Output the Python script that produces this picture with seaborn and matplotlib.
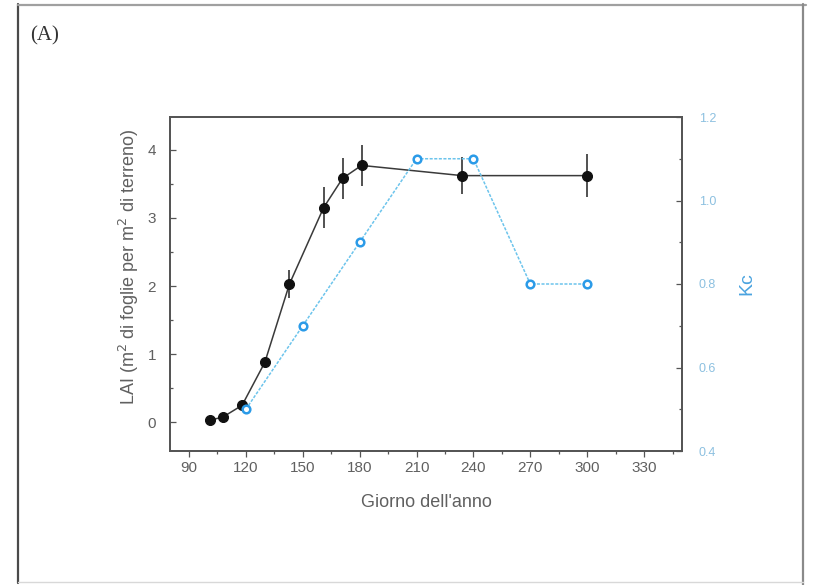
import matplotlib
matplotlib.use("Agg")
import matplotlib.pyplot as plt
from matplotlib.lines import Line2D
from matplotlib.ticker import MultipleLocator
import numpy as np
import pandas as pd
import seaborn as sns

# Leaf area index (LAI) measurements
lai_day = [101, 108, 118, 130, 143, 161, 171, 181, 234, 300]
lai_val = [0.03, 0.08, 0.25, 0.88, 2.03, 3.15, 3.58, 3.77, 3.62, 3.62]
lai_err = [0.0, 0.0, 0.05, 0.05, 0.2, 0.3, 0.3, 0.3, 0.27, 0.32]

# Crop coefficient (Kc)
kc_day = [120, 150, 180, 210, 240, 270, 300]
kc_val = [0.5, 0.7, 0.9, 1.1, 1.1, 0.8, 0.8]

x_ticks = [90, 120, 150, 180, 210, 240, 270, 300, 330]
lai_ticks = [0, 1, 2, 3, 4]
kc_ticks = [0.4, 0.6, 0.8, 1.0, 1.2]

sns.set_theme(style="white")
plt.rcParams["font.family"] = ["Liberation Sans", "DejaVu Sans"]

TXT = "#606060"
BLUE_TXT = "#4aa3df"
W, H = 823, 585
fig = plt.figure(figsize=(W / 100, H / 100), dpi=100)
fig.patch.set_facecolor("white")

# outer panel frame
def fx(px):
    return px / W

def fy(py):
    return 1 - py / H

fig.add_artist(Line2D([fx(18), fx(18)], [fy(4), fy(583)], color="#4a4a4a", lw=1.6, transform=fig.transFigure))
fig.add_artist(Line2D([fx(18), fx(806)], [fy(5), fy(5)], color="#a0a0a0", lw=1.6, transform=fig.transFigure))
fig.add_artist(Line2D([fx(803), fx(803)], [fy(4), fy(585)], color="#8a8a8a", lw=1.6, transform=fig.transFigure))
fig.add_artist(Line2D([fx(18), fx(803)], [fy(582), fy(582)], color="#d8d8d8", lw=1.0, transform=fig.transFigure))
fig.text(fx(30), fy(36), "(A)", fontsize=15, color="#333333",
         family=["Liberation Serif", "DejaVu Serif"], va="center", ha="left")

ax = fig.add_axes([170 / W, 1 - 451 / H, 512 / W, 334 / H])
ax.set_facecolor("white")

lai_df = pd.DataFrame({"day": lai_day, "lai": lai_val})
kc_df = pd.DataFrame({"day": kc_day, "kc": kc_val})

ax.errorbar(lai_day, lai_val, yerr=lai_err, fmt="none", ecolor="#222222",
            elinewidth=1.1, capsize=0, zorder=3)
sns.lineplot(data=lai_df, x="day", y="lai", ax=ax, color="#3a3a3a", lw=1.1,
             marker="o", markersize=7.2, markerfacecolor="#111111",
             markeredgecolor="#111111", zorder=4)

ax.set_xlim(80, 350)
ax.set_ylim(-0.42, 4.48)
ax.set_xticks(x_ticks)
ax.set_yticks(lai_ticks)
ax.xaxis.set_minor_locator(MultipleLocator(15))
ax.yaxis.set_minor_locator(MultipleLocator(0.5))
ax.tick_params(axis="x", which="both", direction="out", bottom=True, top=False,
               length=4, width=0.9, color="#555555", labelsize=11, labelcolor=TXT, pad=3)
ax.tick_params(axis="x", which="minor", length=2.5)
ax.tick_params(axis="y", which="both", direction="in", left=True, right=False,
               length=4, width=0.9, color="#555555", labelsize=11, labelcolor=TXT, pad=10)
ax.tick_params(axis="y", which="minor", length=2.5)
for s in ax.spines.values():
    s.set_color("#555555")
    s.set_linewidth(1.3)
ax.set_xlabel("Giorno dell'anno", fontsize=13, color=TXT, labelpad=14)
ax.set_ylabel("LAI (m$^2$ di foglie per m$^2$ di terreno)", fontsize=13, color=TXT, labelpad=5)
ax.yaxis.label.set_y(0.55)

ax2 = ax.twinx()
sns.lineplot(data=kc_df, x="day", y="kc", ax=ax2, color="#6cc4ec", lw=1.1,
             linestyle=(0, (2, 1)), marker="o", markersize=5.5,
             markerfacecolor="white", markeredgecolor="#2b9be8",
             markeredgewidth=1.8, zorder=5)
ax2.set_ylim(0.4, 1.2)
ax2.set_yticks(kc_ticks)
ax2.set_yticklabels([f"{v:.1f}" for v in kc_ticks])
ax2.yaxis.set_minor_locator(MultipleLocator(0.1))
ax2.tick_params(axis="y", which="both", direction="in", right=True, left=False,
                length=4, width=0.9, color="#555555", labelsize=9,
                labelcolor="#8cc0e0", pad=12)
ax2.tick_params(axis="y", which="minor", length=2.5)
ax2.set_ylabel("Kc", fontsize=14, color=BLUE_TXT, rotation=90, labelpad=16)
ax2.grid(False)
ax.grid(False)
for s in ax2.spines.values():
    s.set_color("#555555")
    s.set_linewidth(1.3)

fig.savefig("out.png", dpi=100, facecolor="white")
